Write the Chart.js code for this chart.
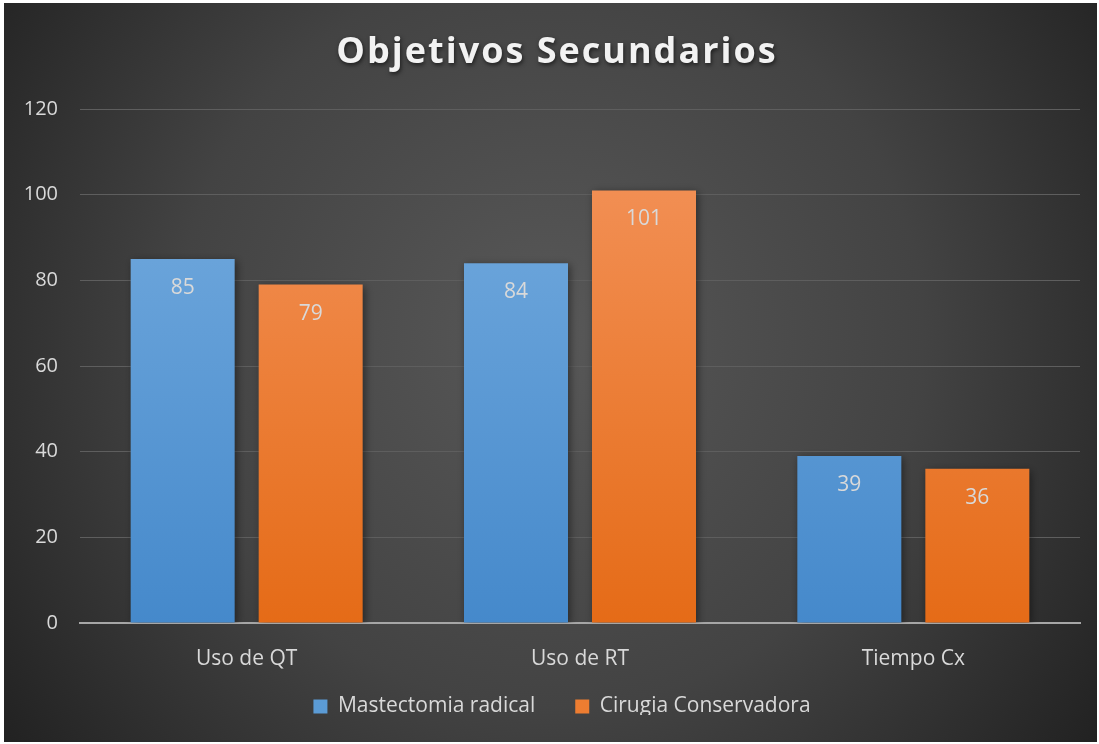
<!DOCTYPE html>
<html><head><meta charset="utf-8">
<script src="https://cdn.jsdelivr.net/npm/chart.js@4"></script>
<style>
html,body{margin:0;padding:0;background:#fff;}
#wrap{position:absolute;left:4px;top:3px;width:1093px;height:739px;}
</style></head>
<body><div id="wrap"><canvas id="c"></canvas></div>
<script>
const categories = ["Uso de QT", "Uso de RT", "Tiempo Cx"];
const seriesNames = ["Mastectomia radical", "Cirugia Conservadora"];
const mastectomia = [85, 84, 39];
const conservadora = [79, 101, 36];
const yTicks = [0, 20, 40, 60, 80, 100, 120];

const FONT = "'Open Sans', 'Liberation Sans', sans-serif";
const TXT = '#d9d9d9';

function grad(ctx, chartArea, top, bottom) {
  const g = ctx.createLinearGradient(0, chartArea.top, 0, chartArea.bottom);
  g.addColorStop(0, top); g.addColorStop(1, bottom);
  return g;
}

const bgPlugin = {
  id: 'bg',
  beforeLayout(chart) {
    const lg = chart.legend;
    if (lg && !lg._patched) {
      const f = lg.fit;
      lg.fit = function () { f.call(this); this.height = 59; };
      lg._patched = true;
    }
  },
  beforeDraw(chart) {
    const {ctx, width, height} = chart;
    const g = ctx.createRadialGradient(width*0.5, height*0.45, 0, width*0.5, height*0.45, width*0.62);
    g.addColorStop(0, '#585858');
    g.addColorStop(0.55, '#434343');
    g.addColorStop(1, '#222222');
    ctx.save(); ctx.fillStyle = g; ctx.fillRect(0,0,width,height); ctx.restore();
  },
  afterLayout(chart) {
    const lg = chart.legend;
    if (lg) { lg.left += 20; lg.right += 20; lg.top -= 27; lg.bottom -= 27; }
  }
};
const shadowPlugin = {
  id: 'shadow',
  beforeDatasetsDraw(chart) {
    chart.ctx.save();
    chart.ctx.shadowColor = 'rgba(0,0,0,0.45)';
    chart.ctx.shadowBlur = 8; chart.ctx.shadowOffsetX = 2; chart.ctx.shadowOffsetY = 2;
  },
  afterDatasetsDraw(chart) {
    chart.ctx.restore();
    const ctx = chart.ctx;
    ctx.save();
    ctx.fillStyle = TXT; ctx.font = "21px " + FONT;
    ctx.textAlign = 'center'; ctx.textBaseline = 'middle';
    chart.data.datasets.forEach((ds, i) => {
      chart.getDatasetMeta(i).data.forEach((bar, j) => {
        ctx.fillText(String(ds.data[j]), bar.x, bar.y + 29);
      });
    });
    ctx.restore();
  }
};
const titlePlugin = {
  id: 'ttl',
  afterDraw(chart) {
    const ctx = chart.ctx;
    ctx.save();
    ctx.font = "bold 36px " + FONT;
    ctx.letterSpacing = '2px';
    ctx.textAlign = 'center'; ctx.textBaseline = 'middle';
    ctx.shadowColor = 'rgba(0,0,0,0.6)'; ctx.shadowBlur = 4; ctx.shadowOffsetX = 1; ctx.shadowOffsetY = 2;
    ctx.fillStyle = '#f2f2f2';
    ctx.fillText('Objetivos Secundarios', 553, 50);
    ctx.restore();
  }
};

new Chart(document.getElementById('c'), {
  type: 'bar',
  data: {
    labels: categories,
    datasets: [
      { label: seriesNames[0], data: mastectomia,
        backgroundColor: (c) => { const a = c.chart.chartArea; if (!a) return '#5b9bd5'; return grad(c.chart.ctx, a, '#78aee0', '#4589cb'); } },
      { label: seriesNames[1], data: conservadora,
        backgroundColor: (c) => { const a = c.chart.chartArea; if (!a) return '#ed7d31'; return grad(c.chart.ctx, a, '#f4955e', '#e56b17'); } }
    ]
  },
  options: {
    responsive: true, maintainAspectRatio: false, animation: false,
    categoryPercentage: 0.768, barPercentage: 0.8125,
    layout: { padding: { top: 106, right: 17, left: 0, bottom: 0 } },
    plugins: {
      legend: { position: 'bottom',
        labels: { color: TXT, font: { family: FONT, size: 21 }, boxWidth: 14, boxHeight: 14, padding: 40,
          generateLabels: (chart) => chart.data.datasets.map((ds, i) => ({
            text: ds.label, fillStyle: i === 0 ? '#5b9bd5' : '#ed7d31', strokeStyle: 'transparent', lineWidth: 0, datasetIndex: i, fontColor: TXT
          })) } },
      tooltip: { enabled: false }
    },
    scales: {
      x: { grid: { display: false, drawTicks: false },
        border: { display: true, color: '#a6a6a6', width: 2 },
        afterFit: (s) => { s.height = 60; },
        ticks: { color: TXT, font: { family: FONT, size: 21 }, padding: 23 } },
      y: { min: 0, max: 120,
        afterBuildTicks: (s) => { s.ticks = yTicks.map(v => ({ value: v })); },
        afterFit: (s) => { s.width = 76; },
        grid: { color: '#5e5e5e', lineWidth: 1, drawTicks: false },
        border: { display: false },
        ticks: { color: TXT, font: { family: FONT, size: 20 }, padding: 22 } }
    }
  },
  plugins: [bgPlugin, shadowPlugin, titlePlugin]
});
</script></body></html>
